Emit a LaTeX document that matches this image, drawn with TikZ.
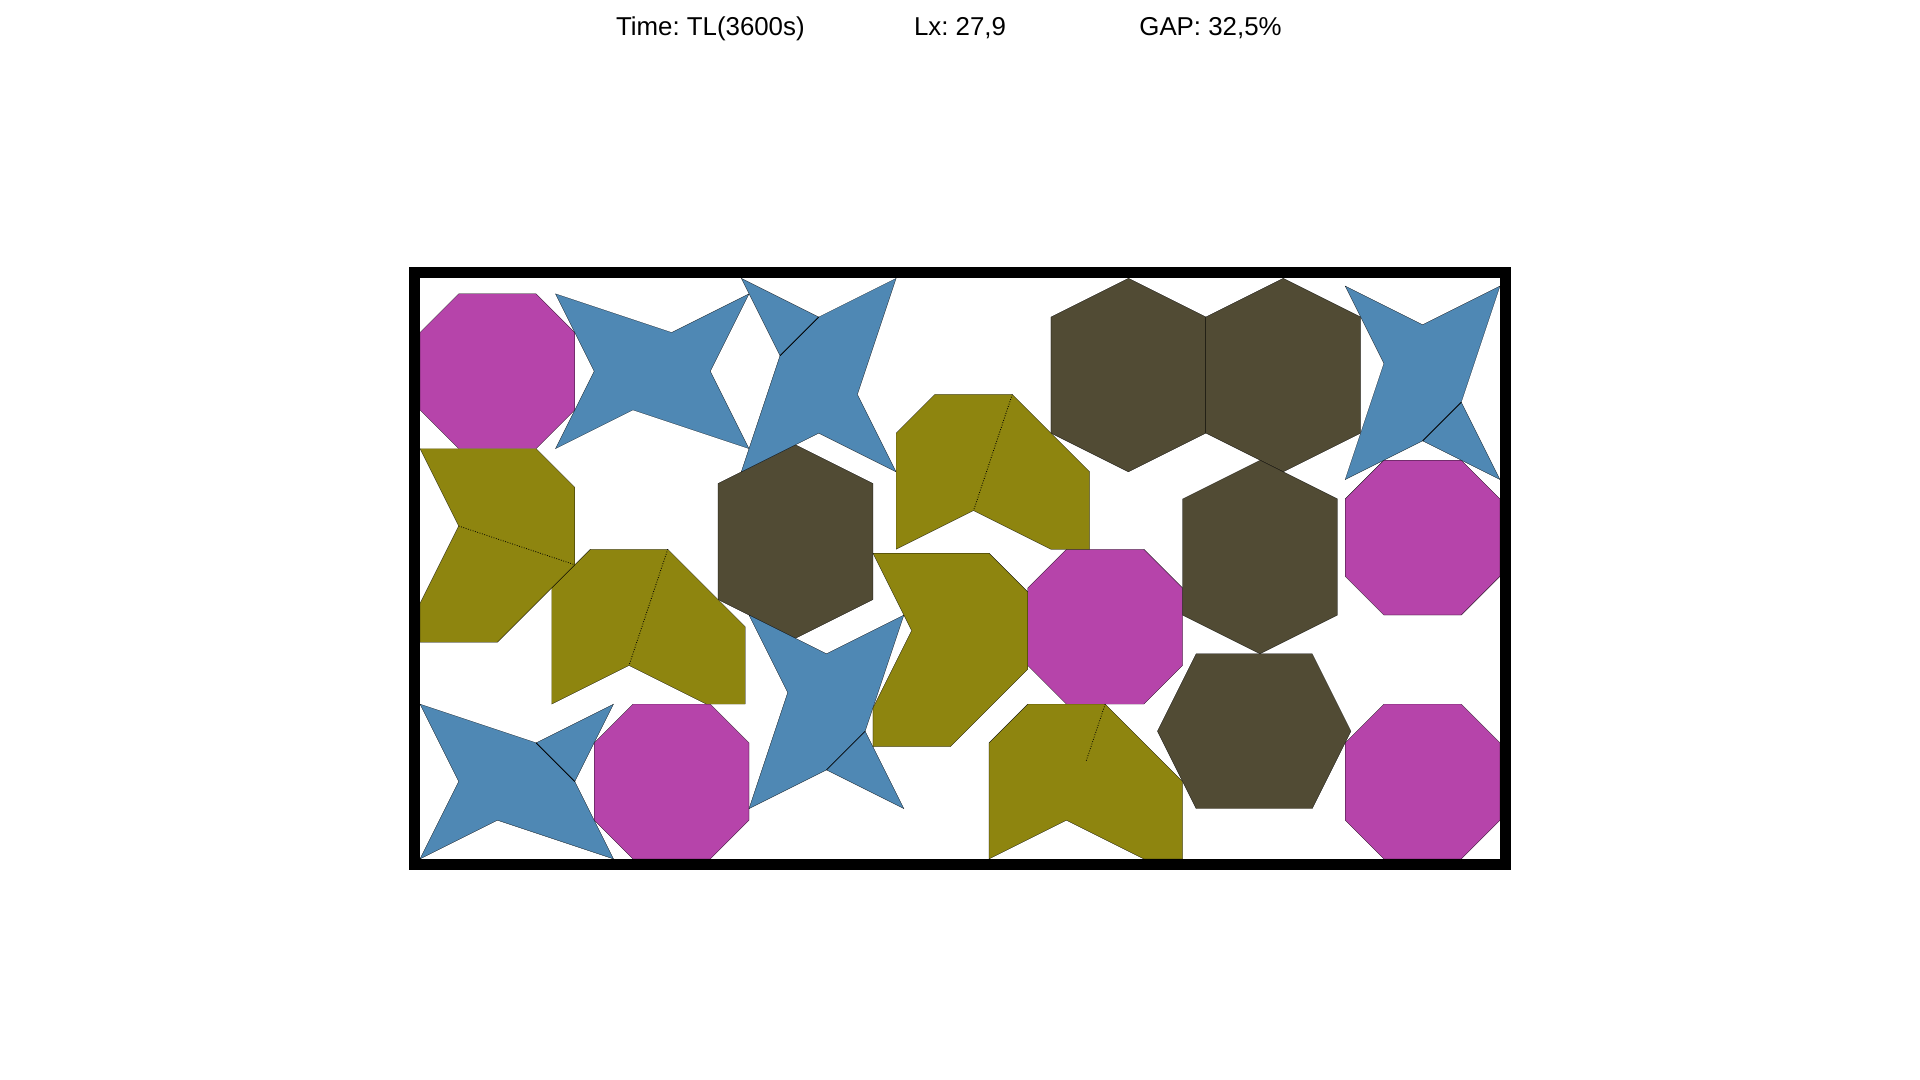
\documentclass[tikz,border=0pt]{standalone}
\usepackage{fontspec}
\setmainfont{Liberation Sans}
\usepackage{xcolor}
\usepackage{tikz}
\frenchspacing

\definecolor{octcol}{RGB}{182,68,170}
\definecolor{hexcol}{RGB}{81,75,52}
\definecolor{starcol}{RGB}{79,136,180}
\definecolor{olivecol}{RGB}{142,133,15}

\begin{document}
\begin{tikzpicture}[x=0.5cm, y=0.5cm,
    piece/.style={draw=black, line width=0.08pt},
    octa/.style={piece, fill=octcol},
    hexa/.style={piece, fill=hexcol},
    stara/.style={piece, fill=starcol},
    olive/.style={piece, fill=olivecol},
    cut/.style={line width=0.3pt},
    seam/.style={line width=0.3pt, dash pattern=on 0.3pt off 0.6pt},
    header/.style={anchor=base west, inner sep=0pt, font=\fontsize{9.5}{11}\selectfont}]
  \useasboundingbox (-10.85,-5.71) rectangle (38.75,22.19);

  % Header line
  \node[header] (time) at (5.05,21.26) {Time: TL(3600s)};
  \node[header] (lx)   at (12.75,21.26) {Lx: 27,9};
  \node[header] (gap)  at (18.57,21.26) {GAP: 32,5\%};

  % Octagons
  \foreach \x/\y in {0/10.6, 4.5/0, 15.7/4, 23.9/6.3, 23.9/0}
    \fill[octa, shift={(\x,\y)}] (1,0) -- (3,0) -- (4,1) -- (4,3) -- (3,4) -- (1,4) -- (0,3) -- (0,1) -- cycle;

  % Hexagons, upright and lying
  \foreach \x/\y in {16.3/10, 20.3/10, 19.7/5.3, 7.7/5.7}
    \fill[hexa, shift={(\x,\y)}] (0,1) -- (2,0) -- (4,1) -- (4,4) -- (2,5) -- (0,4) -- cycle;
  \fill[hexa, shift={(19.05,1.3)}] (0,2) -- (1,0) -- (4,0) -- (5,2) -- (4,4) -- (1,4) -- cycle;

  % Stars, lying
  \foreach \x/\y in {3.5/10.6, 0/0}
    \fill[stara, shift={(\x,\y)}] (0,0) -- (2,1) -- (5,0) -- (4,2) -- (5,4) -- (3,3) -- (0,4) -- (1,2) -- cycle;
  \draw[cut, shift={(0,0)}] (3,3) -- (4,2);

  % Stars, upright
  \foreach \x/\y in {8.3/10, 23.9/9.8, 8.5/1.3}
    \fill[stara, shift={(\x,\y)}] (0,0) -- (2,1) -- (4,0) -- (3,2) -- (4,5) -- (2,4) -- (0,5) -- (1,3) -- cycle;
  \draw[cut, shift={(8.3,10)}] (2,4) -- (1,3);
  \draw[cut, shift={(23.9,9.8)}] (3,2) -- (2,1);
  \draw[cut, shift={(8.5,1.3)}] (3,2) -- (2,1);

  % Olive pieces, lying
  \foreach \x/\y in {3.4/4, 12.3/8, 14.7/0}
    \fill[olive, shift={(\x,\y)}] (0,0) -- (2,1) -- (4,0) -- (5,0) -- (5,2) -- (3,4) -- (1,4) -- (0,3) -- cycle;
  \draw[seam, shift={(3.4,4)}] (3,4) -- (2,1);
  \draw[seam, shift={(12.3,8)}] (3,4) -- (2,1);
  \draw[seam, shift={(14.7,0)}] (3,4) -- (2.5,2.5);

  % Olive pieces, upright
  \foreach \x/\y in {0/5.6, 11.7/2.9}
    \fill[olive, shift={(\x,\y)}] (0,0) -- (2,0) -- (4,2) -- (4,4) -- (3,5) -- (0,5) -- (1,3) -- (0,1) -- cycle;
  \draw[seam, shift={(0,5.6)}] (1,3) -- (4,2);

  % Strip border
  \draw[line width=0.142cm] (-0.142,-0.142) rectangle (28.042,15.142);
\end{tikzpicture}
\end{document}
